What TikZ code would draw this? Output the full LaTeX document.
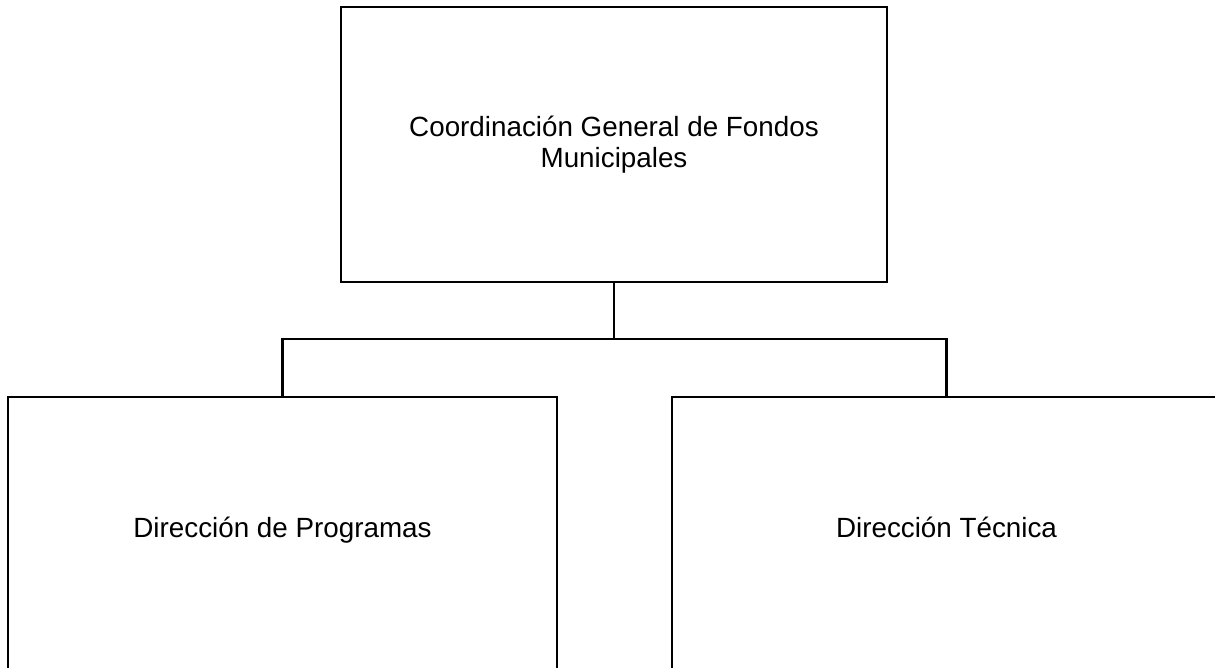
\documentclass[tikz,border=0pt]{standalone}
\usepackage{fontspec}
\setmainfont{Liberation Sans}
\begin{document}
\begin{tikzpicture}[x=1pt,y=-1pt,
  orgbox/.style={draw=black, line width=2.8pt, fill=white, minimum height=275pt, align=center,
    font=\fontsize{27.8}{31}\selectfont, inner sep=0pt},
  link/.style={draw=black, line width=2.8pt}]
\clip (0,0) rectangle (1215,667);
\fill[white] (0,0) rectangle (1215,667);
\node[orgbox, minimum width=546pt] (top) at (614,144.5) {Coordinación General de Fondos\\Municipales};
\node[orgbox, minimum width=549pt, text depth=14pt] (left) at (282.5,534.5) {Dirección de Programas};
\node[orgbox, minimum width=549pt, text depth=14pt] (right) at (946.5,534.5) {Dirección Técnica};
\coordinate (bus) at (614,339);
\draw[link] (top.south) -- (bus);
\draw[link] (bus) -| (left.north);
\draw[link] (bus) -| (right.north);
\end{tikzpicture}
\end{document}
